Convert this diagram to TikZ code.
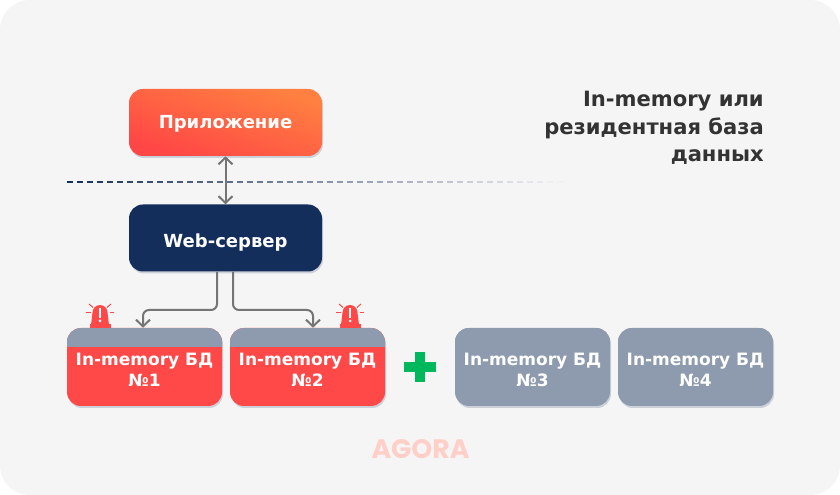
\documentclass[tikz,border=0pt]{standalone}
\usepackage{fontspec}
\setmainfont{DejaVu Sans}
\newfontfamily\logofont{Poppins}
\usetikzlibrary{arrows.meta,shadows}
\newdimen\px
\px=0.75pt
\definecolor{bgGrey}{HTML}{F5F5F5}
\definecolor{navy}{HTML}{142E5C}
\definecolor{dbRed}{HTML}{FF4949}
\definecolor{dbGrey}{HTML}{8E9BAE}
\definecolor{appRed}{HTML}{FF4646}
\definecolor{appOrange}{HTML}{FF8040}
\definecolor{linkGrey}{HTML}{757575}
\definecolor{plusGreen}{HTML}{00B85C}
\definecolor{logoPink}{HTML}{FFCFC8}
\definecolor{titleInk}{HTML}{333333}
\tikzset{
	>={Straight Barb[length=5pt,width=10.5pt]},
	softshadow/.style={drop shadow={shadow xshift=1\px, shadow yshift=-2\px, opacity=0.18, fill=navy}},
	box/.style={rounded corners=14\px, minimum width=193\px, minimum height=67\px, inner sep=0pt, softshadow},
	boxtext/.style={text=white, font=\fontsize{13.5}{16}\selectfont\bfseries},
	dbbox/.style={rounded corners=14\px, minimum width=155\px, minimum height=78\px, inner sep=0pt, softshadow},
	dbtext/.style={text=white, align=center, font=\fontsize{12.75}{15.75}\selectfont\bfseries},
	link/.style={draw=linkGrey, line width=2\px, rounded corners=6\px},
}
\begin{document}
\begin{tikzpicture}[x=1\px,y=-1\px]
	
	% ---- Background ----
	\useasboundingbox (0,0) rectangle (840,495);
	\fill[white] (0,0) rectangle (840,495);
	\fill[bgGrey, rounded corners=30\px] (0,0) rectangle (840,495);
	
	% ---- Dashed line, fades to the right ----
	\foreach \i in {0,...,50}
	{
		\pgfmathtruncatemacro{\pct}{100-2*\i}
		\draw[navy!\pct!bgGrey, line width=1.5\px] (67+10*\i,182) -- ++(6,0);
	}
	
	% ---- Upper boxes ----
	\node[box, shading=axis, top color=appOrange, bottom color=appRed, shading angle=-19] (app) at (225.5,122.5) {};
	\node[boxtext] (apptext) at (225.5,124) {Приложение};
	\node[box, fill=navy] (web) at (225.5,238) {};
	\node[boxtext] (webtext) at (225.5,243) {Web-сервер};
	
	% ---- Database boxes ----
	\foreach \name/\x/\col in {
		1/144.5/dbRed,
		2/307.5/dbRed,
		3/532.5/dbGrey,
		4/695.5/dbGrey%
	}
	{
		\node[dbbox, fill=\col, path picture={
			\fill[dbGrey, sharp corners] (path picture bounding box.north west) rectangle ([yshift=-19\px]path picture bounding box.north east);
		}] (db\name) at (\x,367) {};
		\node[dbtext] (label\name) at (\x,370) {In-memory БД\\№\name};
	}
	
	% ---- Connectors ----
	\draw[link,<->] (app.south) -- (web.north);
	\coordinate (turnA) at (143,310);
	\coordinate (turnB) at (313,310);
	\draw[link,->] ([xshift=-8.5\px]web.south) |- (turnA) -- ([xshift=-1.5\px]db1.north);
	\draw[link,->] ([xshift=7.5\px]web.south) |- (turnB) -- ([xshift=5.5\px]db2.north);
	
	% ---- Alarm lamps ----
	\foreach \x in {100,350}
	{
		\begin{scope}[shift={(\x,0)}]
			\fill[dbRed] (-10.5,328) rectangle (10.5,324);
			\fill[dbRed] (-9,325) -- (-7.5,312.5) arc[start angle=180, end angle=360, radius=7.5] -- (9,325) -- cycle;
			\fill[white] (-1.3,308) rectangle (1.3,318.5);
			\fill[white] (0,321) circle (1.5);
			\draw[dbRed, line width=1\px] (-14,313) -- (-9.5,313);
			\draw[dbRed, line width=1\px] (14,313) -- (9.5,313);
			\draw[dbRed, line width=1\px] (-11,304) -- (-7,307.5);
			\draw[dbRed, line width=1\px] (11,304) -- (7,307.5);
		\end{scope}
	}
	
	% ---- Plus ----
	\fill[plusGreen] (415,352) rectangle (425,382);
	\fill[plusGreen] (404,362) rectangle (436,372);
	
	% ---- Title and logo ----
	\node[anchor=east, inner sep=0pt, align=right, text=titleInk, font=\fontsize{15.8}{20.6}\selectfont\bfseries] (title) at (764,128) {In-memory или\\резидентная база\\данных};
	\node[text=logoPink, font=\fontsize{20}{24}\logofont\bfseries] (logo) at (420.5,449.5) {AGORA};
	
\end{tikzpicture}
\end{document}
